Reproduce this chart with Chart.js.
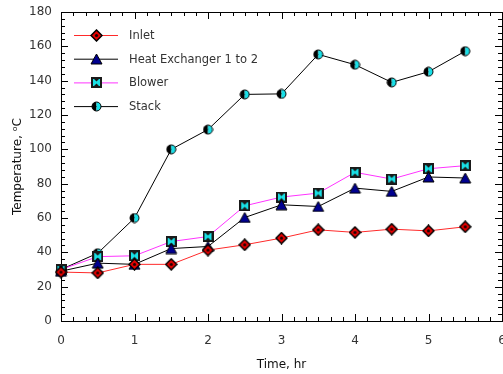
<!DOCTYPE html>
<html>
<head>
<meta charset="utf-8">
<script src="https://cdn.jsdelivr.net/npm/chart.js@4/dist/chart.umd.min.js"></script>
<style>
  html, body { margin: 0; padding: 0; background: #fff; overflow: hidden; }
  canvas { display: block; }
</style>
</head>
<body>
<canvas id="myChart" width="503" height="374"></canvas>
<script>
const times = [0, 0.5, 1, 1.5, 2, 2.5, 3, 3.5, 4, 4.5, 5, 5.5];
const inlet = [28.5, 28, 33, 33, 41.3, 44.4, 48.3, 53.1, 51.6, 53.5, 52.5, 54.9];
const heatExchanger = [29, 33.7, 33, 42.2, 43.4, 60.3, 67.7, 66.7, 77.4, 75.5, 83.9, 83.3];
const blower = [30, 37.5, 38, 46.3, 49.2, 67.1, 72.2, 74.5, 86.6, 82.7, 88.7, 90.5];
const stack = [30, 39.5, 60, 100, 111.5, 132, 132.3, 155.3, 149.3, 139, 145.2, 157.2];
const xTicks = [0, 1, 2, 3, 4, 5, 6];
const yTicks = [0, 20, 40, 60, 80, 100, 120, 140, 160, 180];

const fontName = 'DejaVu Sans';

// marker images
function makeMarker(w, h, draw) {
  const c = document.createElement('canvas');
  c.width = w;
  c.height = h;
  draw(c.getContext('2d'), w, h);
  return c;
}

const diamond = makeMarker(13, 13, function(g, w, h) {
  g.beginPath();
  g.moveTo(w / 2, 1); g.lineTo(w - 1, h / 2); g.lineTo(w / 2, h - 1); g.lineTo(1, h / 2);
  g.closePath();
  g.fillStyle = '#e80000';
  g.fill();
  g.lineWidth = 1.5;
  g.strokeStyle = '#000';
  g.stroke();
  g.beginPath();
  g.arc(w / 2, h / 2, 1.6, 0, Math.PI * 2);
  g.fillStyle = '#200';
  g.fill();
});

const triangle = makeMarker(13, 12, function(g, w, h) {
  g.beginPath();
  g.moveTo(w / 2, 1); g.lineTo(w - 1, h - 1); g.lineTo(1, h - 1);
  g.closePath();
  g.fillStyle = '#000090';
  g.fill();
  g.lineWidth = 1;
  g.strokeStyle = '#000';
  g.stroke();
});

const square = makeMarker(11, 11, function(g, w, h) {
  g.fillStyle = '#1a1a1a';
  g.fillRect(0, 0, w, h);
  g.fillStyle = '#19e0e6';
  g.fillRect(2, 2, w - 4, h - 4);
  g.fillStyle = '#1a1a1a';
  g.beginPath();
  g.moveTo(3, 2); g.lineTo(w - 3, 2); g.lineTo(w / 2, 4.5); g.closePath();
  g.fill();
  g.beginPath();
  g.moveTo(3, h - 2); g.lineTo(w - 3, h - 2); g.lineTo(w / 2, h - 4.5); g.closePath();
  g.fill();
});

const halfCircle = makeMarker(11, 11, function(g, w, h) {
  const r = 4.5;
  g.beginPath();
  g.arc(w / 2, h / 2, r, Math.PI / 2, Math.PI * 1.5);
  g.closePath();
  g.fillStyle = '#000';
  g.fill();
  g.beginPath();
  g.arc(w / 2, h / 2, r, -Math.PI / 2, Math.PI / 2);
  g.closePath();
  g.fillStyle = '#18e0e8';
  g.fill();
  g.beginPath();
  g.arc(w / 2, h / 2, r, 0, Math.PI * 2);
  g.lineWidth = 1;
  g.strokeStyle = '#000';
  g.stroke();
});

function toPoints(values) {
  return values.map(function(v, i) { return {x: times[i], y: v}; });
}

function makeDataset(label, values, color, marker) {
  return {
    label: label,
    data: toPoints(values),
    borderColor: color,
    backgroundColor: color,
    borderWidth: 1,
    pointStyle: marker,
    pointRadius: 5,
    pointHoverRadius: 5,
    tension: 0,
    clip: false
  };
}

// inward ticks on all four sides, plus box and legend inside plot
const frame = {
  id: 'frame',
  beforeDatasetsDraw: function(chart) {
    const ctx = chart.ctx, a = chart.chartArea;
    const xs = chart.scales.x, ys = chart.scales.y;
    ctx.save();
    ctx.strokeStyle = '#000';
    ctx.lineWidth = 1;
    ctx.beginPath();
    for (let i = 0; i <= 36; i++) {
      const px = Math.round(xs.getPixelForValue(i / 6)) + 0.5;
      const len = i % 6 === 0 ? 7 : 4;
      ctx.moveTo(px, a.bottom); ctx.lineTo(px, a.bottom - len);
      ctx.moveTo(px, a.top); ctx.lineTo(px, a.top + len);
    }
    for (let v = 0; v <= 180; v += 4) {
      const py = Math.round(ys.getPixelForValue(v)) + 0.5;
      const len = v % 20 === 0 ? 7 : 4;
      ctx.moveTo(a.left, py); ctx.lineTo(a.left + len, py);
      ctx.moveTo(a.right, py); ctx.lineTo(a.right - len, py);
    }
    ctx.stroke();
    ctx.strokeRect(Math.round(a.left) + 0.5, Math.round(a.top) + 0.5,
      Math.round(a.right - a.left), Math.round(a.bottom - a.top));
    ctx.restore();
  },
  afterDatasetsDraw: function(chart) {
    const ctx = chart.ctx, a = chart.chartArea;
    ctx.save();
    ctx.font = '11.5px "' + fontName + '"';
    ctx.textBaseline = 'middle';
    chart.data.datasets.forEach(function(ds, i) {
      const y = a.top + 23 + i * 23.7;
      ctx.strokeStyle = ds.borderColor;
      ctx.lineWidth = 1;
      ctx.beginPath();
      ctx.moveTo(a.left + 13, y + 0.5);
      ctx.lineTo(a.left + 57, y + 0.5);
      ctx.stroke();
      const img = ds.pointStyle;
      ctx.drawImage(img, Math.round(a.left + 35 - img.width / 2), Math.round(y - img.height / 2));
      ctx.fillStyle = '#333';
      ctx.fillText(ds.label, a.left + 68, y + 1);
    });
    ctx.restore();
  }
};

new Chart(document.getElementById('myChart'), {
  type: 'line',
  data: {
    datasets: [
      makeDataset('Inlet', inlet, '#ff2a2a', diamond),
      makeDataset('Heat Exchanger 1 to 2', heatExchanger, '#000', triangle),
      makeDataset('Blower', blower, '#ff33ff', square),
      makeDataset('Stack', stack, '#000', halfCircle)
    ]
  },
  options: {
    responsive: false,
    animation: false,
    devicePixelRatio: 1,
    layout: { autoPadding: false, padding: { top: 12, left: 0, right: 1, bottom: 0 } },
    plugins: {
      legend: { display: false },
      tooltip: { enabled: false }
    },
    scales: {
      x: {
        type: 'linear',
        min: 0,
        max: 6,
        afterBuildTicks: function(scale) {
          scale.ticks = xTicks.map(function(v) { return {value: v}; });
        },
        afterFit: function(scale) {
          scale.height = 53;
          scale.paddingLeft = 0;
          scale.paddingRight = 0;
        },
        grid: { display: false, drawTicks: false },
        border: { display: false },
        ticks: {
          padding: 13,
          color: '#333',
          font: { family: fontName, size: 12 },
          maxRotation: 0
        },
        title: {
          display: true,
          text: 'Time, hr',
          color: '#111',
          font: { family: fontName, size: 12 },
          padding: { top: 0, bottom: 2 }
        }
      },
      y: {
        type: 'linear',
        min: 0,
        max: 180,
        afterBuildTicks: function(scale) {
          scale.ticks = yTicks.map(function(v) { return {value: v}; });
        },
        afterFit: function(scale) {
          scale.width = 61;
          scale.paddingTop = 0;
          scale.paddingBottom = 0;
        },
        grid: { display: false, drawTicks: false },
        border: { display: false },
        ticks: {
          padding: 9,
          color: '#333',
          font: { family: fontName, size: 12 }
        },
        title: {
          display: true,
          text: 'Temperature, ᵒC',
          color: '#111',
          font: { family: fontName, size: 12 },
          padding: { top: 11, bottom: 0 }
        }
      }
    }
  },
  plugins: [frame]
});
</script>
</body>
</html>
